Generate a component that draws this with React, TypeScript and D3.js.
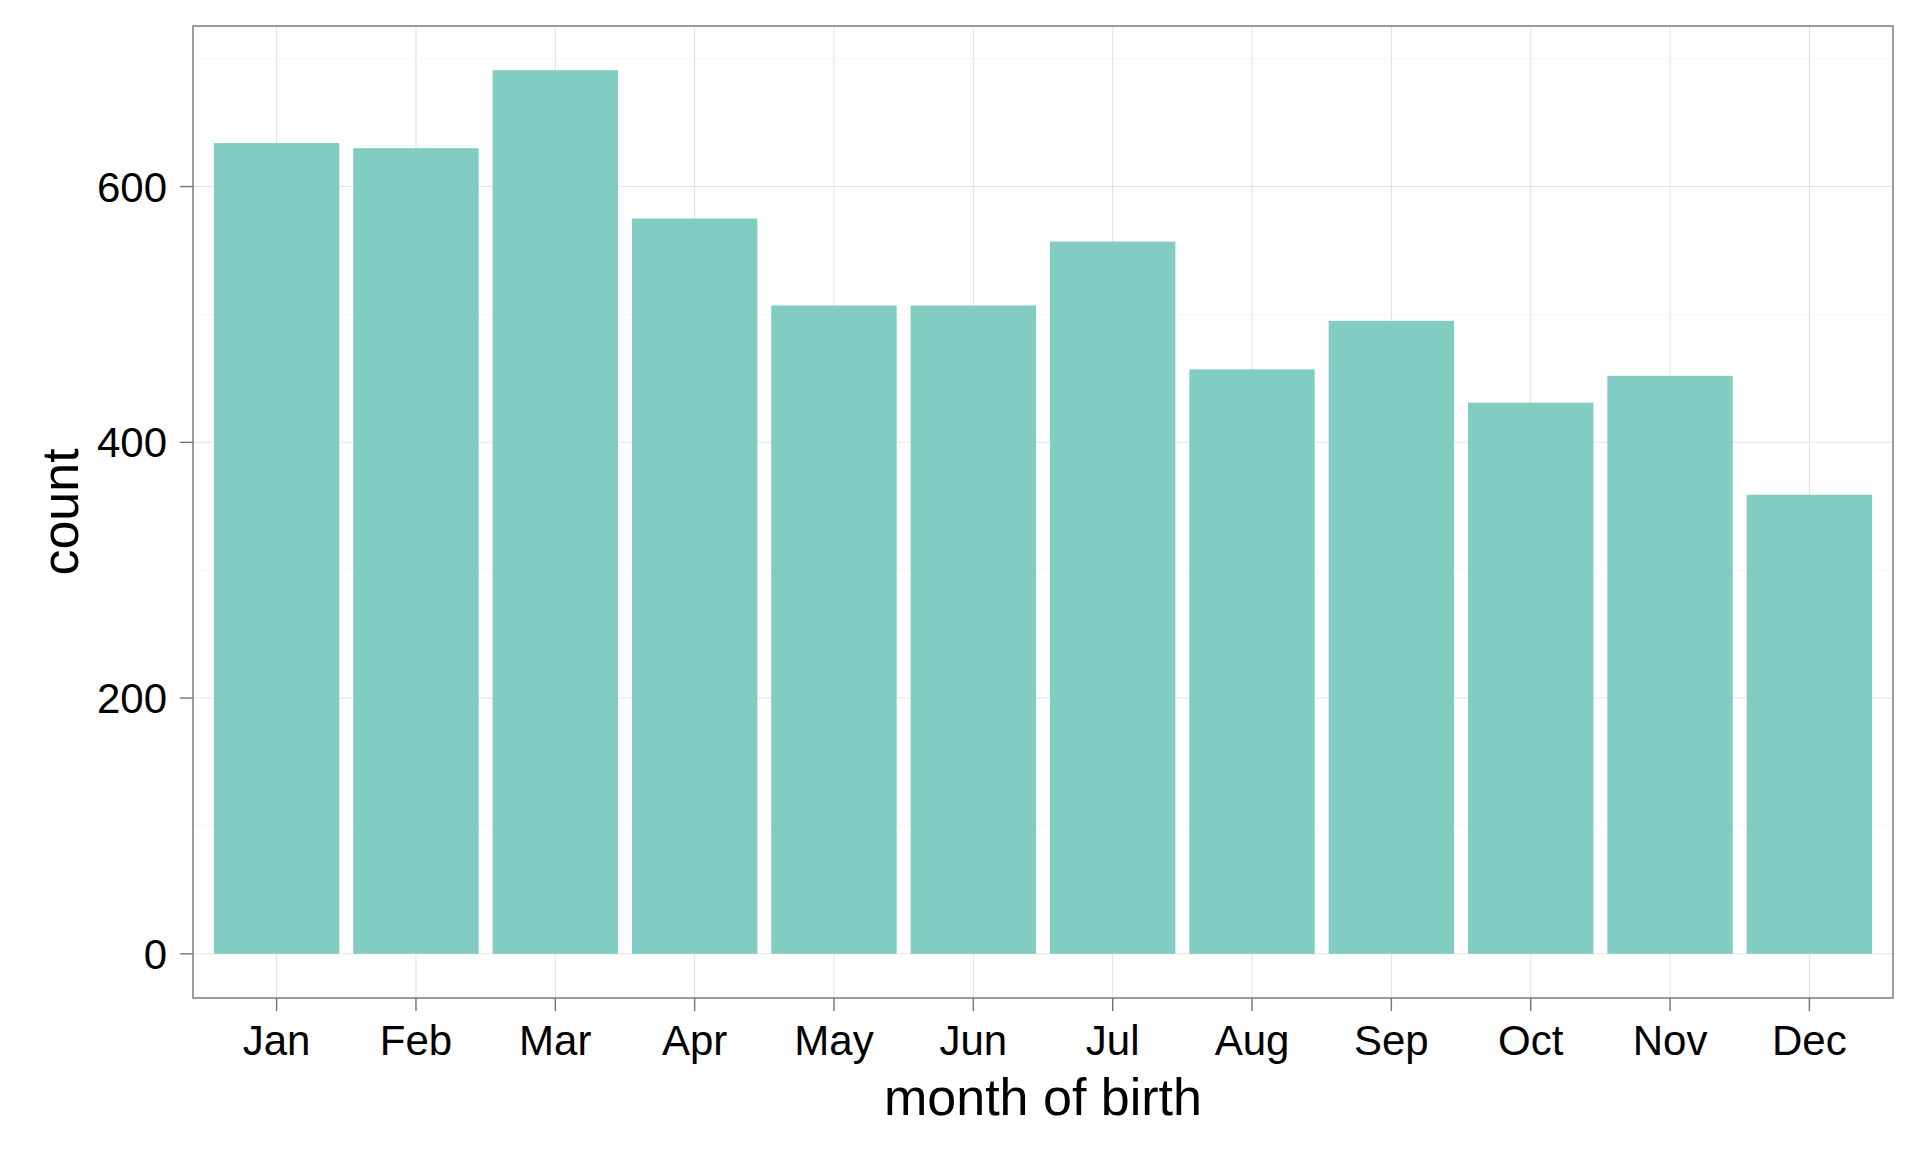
import React from "react";
import * as d3 from "d3";

const months = ["Jan", "Feb", "Mar", "Apr", "May", "Jun", "Jul", "Aug", "Sep", "Oct", "Nov", "Dec"];
const counts = [634, 630, 691, 575, 507, 507, 557, 457, 495, 431, 452, 359];
const yMajorTicks = [0, 200, 400, 600];
const yMinorTicks = [100, 300, 500, 700];
const xTitle = "month of birth";
const yTitle = "count";

const W = 1920;
const H = 1152;
const panel = { left: 193, right: 1893, top: 26, bottom: 998 };
const FONT = "'Liberation Sans', Arial, sans-serif";
const barColor = "#81CDC1";

export default function App() {
  const maxV = d3.max(counts) as number;
  const pad = maxV * 0.05;
  const x = d3
    .scaleBand<string>()
    .domain(months)
    .range([panel.left, panel.right])
    .paddingInner(0.1)
    .paddingOuter(0.15);
  const y = d3.scaleLinear().domain([-pad, maxV + pad]).range([panel.bottom, panel.top]);
  const bw = x.bandwidth();
  const cx = (m: string) => (x(m) as number) + bw / 2;

  return (
    <svg width={W} height={H} style={{ display: "block", position: "absolute", left: 0, top: 0 }} fontFamily={FONT}>
      <rect x={0} y={0} width={W} height={H} fill="#ffffff" />
      {/* minor grid */}
      {yMinorTicks.map((t) => (
        <line key={"mn" + t} x1={panel.left} x2={panel.right} y1={y(t)} y2={y(t)} stroke="#F5F5F5" strokeWidth={1} />
      ))}
      {/* major grid */}
      {yMajorTicks.map((t) => (
        <line key={"mj" + t} x1={panel.left} x2={panel.right} y1={y(t)} y2={y(t)} stroke="#E3E3E3" strokeWidth={1.1} />
      ))}
      {months.map((m) => (
        <line key={"vg" + m} x1={cx(m)} x2={cx(m)} y1={panel.top} y2={panel.bottom} stroke="#E3E3E3" strokeWidth={1.1} />
      ))}
      {/* bars */}
      {months.map((m, i) => (
        <rect key={"b" + m} x={x(m)} width={bw} y={y(counts[i])} height={y(0) - y(counts[i])} fill={barColor} />
      ))}
      {/* panel border */}
      <rect
        x={panel.left}
        y={panel.top}
        width={panel.right - panel.left}
        height={panel.bottom - panel.top}
        fill="none"
        stroke="#737373"
        strokeWidth={1.4}
      />
      {/* y ticks */}
      {yMajorTicks.map((t) => (
        <g key={"yt" + t}>
          <line x1={panel.left - 13} x2={panel.left} y1={y(t)} y2={y(t)} stroke="#737373" strokeWidth={1.4} />
          <text x={panel.left - 26} y={y(t)} dy="0.36em" textAnchor="end" fontSize={42} fill="#000">
            {t}
          </text>
        </g>
      ))}
      {/* x ticks */}
      {months.map((m) => (
        <g key={"xt" + m}>
          <line x1={cx(m)} x2={cx(m)} y1={panel.bottom} y2={panel.bottom + 13} stroke="#737373" strokeWidth={1.4} />
          <text x={cx(m)} y={1055} textAnchor="middle" fontSize={42} fill="#000">
            {m}
          </text>
        </g>
      ))}
      {/* axis titles */}
      <text x={(panel.left + panel.right) / 2} y={1115} textAnchor="middle" fontSize={52} fill="#000">
        {xTitle}
      </text>
      <text
        transform={`translate(78, ${(panel.top + panel.bottom) / 2}) rotate(-90)`}
        textAnchor="middle"
        fontSize={52}
        fill="#000"
      >
        {yTitle}
      </text>
    </svg>
  );
}
